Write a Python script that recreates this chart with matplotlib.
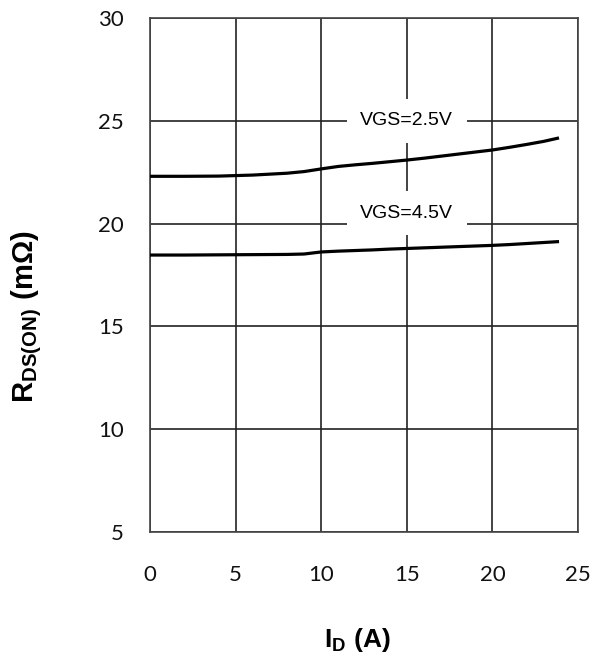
import matplotlib.pyplot as plt

plt.rcParams['mathtext.fontset'] = 'custom'
plt.rcParams['mathtext.rm'] = 'Liberation Sans'
plt.rcParams['mathtext.bf'] = 'Liberation Sans:bold'

# drain current (A) and on-resistance (mOhm)
id_25 = [0, 2, 4, 6, 8, 9, 10, 11, 12, 13, 14, 15, 16, 17, 18, 19, 20, 21, 22, 23, 23.8]
r_25 = [22.30, 22.30, 22.31, 22.36, 22.45, 22.53, 22.66, 22.78, 22.86, 22.93, 23.01,
        23.09, 23.18, 23.28, 23.38, 23.48, 23.58, 23.71, 23.85, 24.00, 24.15]
id_45 = [0, 2, 4, 6, 8, 9, 9.5, 10, 11, 12, 13, 14, 15, 16, 17, 18, 19, 20, 21, 22, 23, 23.8]
r_45 = [18.47, 18.47, 18.48, 18.49, 18.50, 18.52, 18.57, 18.62, 18.66, 18.69, 18.72,
        18.76, 18.79, 18.82, 18.85, 18.88, 18.91, 18.94, 18.98, 19.03, 19.08, 19.12]
labels = ['VGS=2.5V', 'VGS=4.5V']
label_pos = [(15, 25.0), (15, 20.5)]
x_ticks = [0, 5, 10, 15, 20, 25]
y_ticks = [5, 10, 15, 20, 25, 30]

fig = plt.figure(figsize=(6.06, 6.57), dpi=100)
ax = fig.add_axes([0.2475, 0.1903, 0.7063, 0.7823])

ax.plot(id_25, r_25, color='black', lw=2.3, zorder=3)
ax.plot(id_45, r_45, color='black', lw=2.3, zorder=3)

for txt, (lx, ly) in zip(labels, label_pos):
    ax.text(lx, ly, txt, ha='center', va='center', fontsize=14,
            family='Liberation Sans', color='black', zorder=4,
            bbox=dict(boxstyle='square,pad=0.7', fc='white', ec='none'))

ax.set_xlim(0, 25)
ax.set_ylim(5, 30)
ax.set_xticks(x_ticks)
ax.set_yticks(y_ticks)
ax.grid(True, color='#222222', lw=1.2)
for s in ax.spines.values():
    s.set_color('#444444')
    s.set_linewidth(1.2)
ax.tick_params(length=0, labelsize=16, labelcolor='#111111')
ax.tick_params(axis='y', pad=19)
ax.tick_params(axis='x', pad=24)
for lab in ax.get_xticklabels() + ax.get_yticklabels():
    lab.set_family('Lato')

ax.set_xlabel(r'$\mathbf{I_{D}}$ $\mathbf{(A)}$', fontsize=19)
ax.set_ylabel(r'$\mathbf{R_{DS(ON)}}$ $\mathbf{(m\Omega)}$', fontsize=21)
ax.xaxis.set_label_coords(0.485, -0.183)
ax.yaxis.set_label_coords(-0.247, 0.42)

fig.savefig('out.png', dpi=100)
